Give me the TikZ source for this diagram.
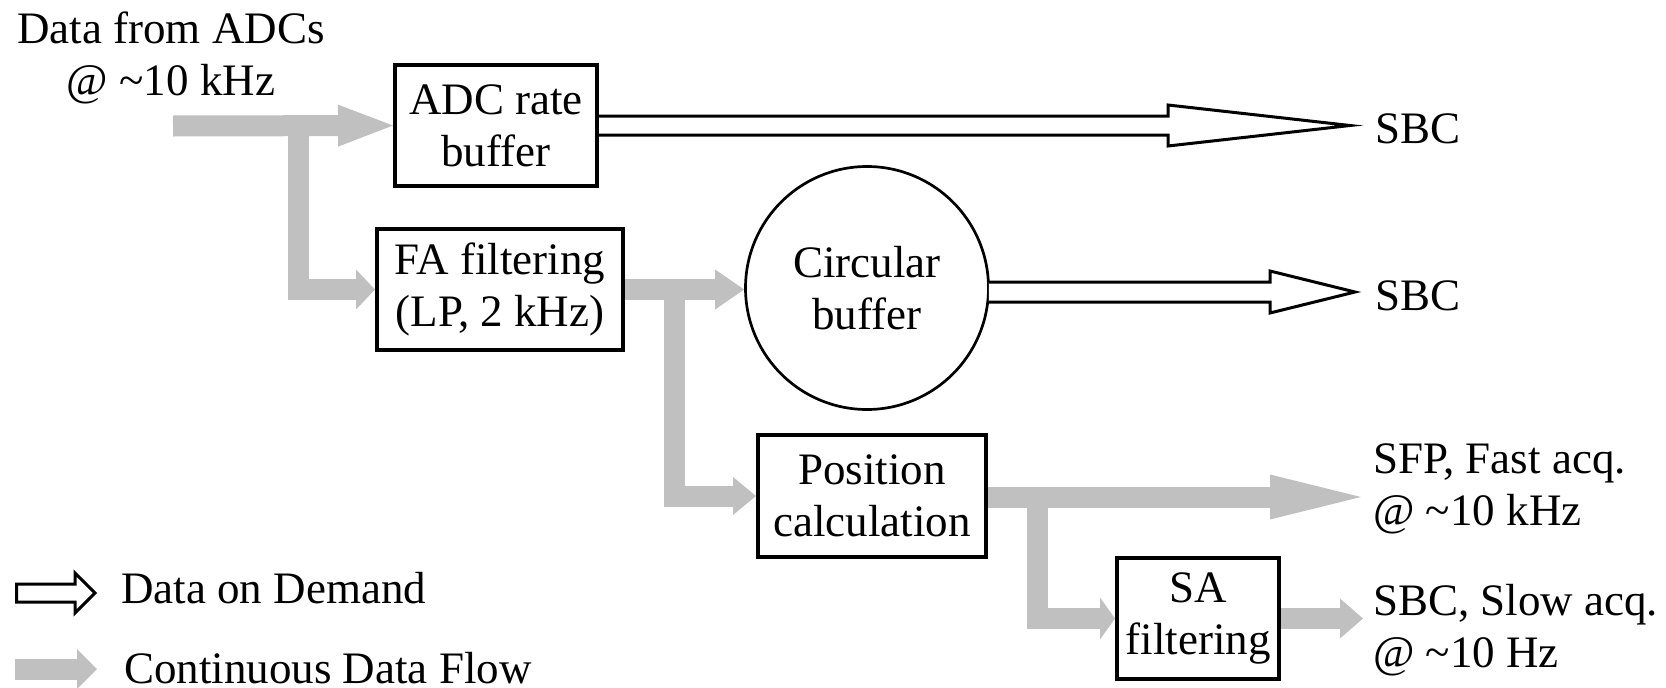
\documentclass[tikz,border=0pt]{standalone}
\usepackage{fontspec}
\setmainfont{LiberationSerif}[Extension=.ttf, UprightFont=*-Regular, BoldFont=*-Bold, ItalicFont=*-Italic]
\usetikzlibrary{arrows.meta,calc}
\definecolor{flowgray}{RGB}{192,192,192}
% #1 start, #2 tip, #3 half shaft, #4 head length, #5 head half width
\newcommand\dodarrow[5]{%
  \draw[dod] ($(#1)+(0,-#3)$) -- ($(#2)+(-#4,-#3)$) -- ($(#2)+(-#4,-#5)$) -- (#2)
    -- ($(#2)+(-#4,#5)$) -- ($(#2)+(-#4,#3)$) -- ($(#1)+(0,#3)$);}
\begin{document}
\begin{tikzpicture}[x=1pt,y=-1pt,
  txt/.style={font=\rmfamily\fontsize{45}{52}\selectfont},
  lbl/.style={txt, inner sep=0pt},
  blk/.style={draw, line width=4pt, txt, align=center, inner sep=0pt},
  flow/.style={draw=flowgray, line width=21pt},
  dod/.style={draw=black, line width=3pt, line join=miter, fill=white}]
\useasboundingbox (0,0) rectangle (1666,688);

% blocks
\node[blk, minimum width=202pt, minimum height=121pt] (adc) at (496,125.5) {ADC rate\\buffer};
\node[blk, minimum width=246pt, minimum height=121pt] (fa) at (500,289.5) {FA filtering\\(LP, 2 kHz)};
\node[circle, draw, line width=2.7pt, minimum size=243pt, inner sep=0pt, txt, align=center] (cb) at (867,288) {Circular\\buffer};
\node[blk, minimum width=228pt, minimum height=122pt] (pos) at (872,496) {Position\\calculation};
\node[blk, minimum width=162pt, minimum height=121pt] (sa) at (1198,618.5) {SA\\filtering};

% labels (base anchor = baseline of the last line)
\node[lbl, anchor=base, align=center] (src) at (171,95) {Data from ADCs\\@ \textasciitilde10 kHz};
\node[lbl, anchor=base west] (sbc1) at (1375,143) {SBC};
\node[lbl, anchor=base west] (sbc2) at (1375,310) {SBC};
\node[lbl, anchor=base west, align=left] (sfpl) at (1373,525) {SFP, Fast acq.\\@ \textasciitilde10 kHz};
\node[lbl, anchor=base west, align=left] (sbcl) at (1373,667) {SBC, Slow acq.\\@ \textasciitilde10 Hz};

% continuous data flow
\coordinate (in) at (173,126);
\draw[flow,-{Triangle[length=55pt,width=42pt,line width=0pt]}] (in) -- (adc.west);
\coordinate (b1) at (298,126);
\draw[flow,-{Triangle[length=19pt,width=40pt,line width=0pt]}] (b1) -- (b1 |- fa.west) -- (fa.west);
\draw[flow,-{Triangle[length=29pt,width=40pt,line width=0pt]}] (fa.east) -- (fa.east -| cb.west);
\coordinate (b2) at (674,289.5);
\draw[flow,-{Triangle[length=23pt,width=38pt,line width=0pt]}] (b2) -- (b2 |- pos.west) -- (pos.west);
\coordinate (sfp) at (1361,497);
\draw[flow,-{Triangle[length=91pt,width=45pt,line width=0pt]}] (pos.east |- sfp) -- (sfp);
\coordinate (b3) at (1037,497);
\draw[flow,-{Triangle[length=15pt,width=42pt,line width=0pt]}] (b3) -- (b3 |- sa.west) -- (sa.west);
\coordinate (sbc3) at (1363,618.5);
\draw[flow,-{Triangle[length=23pt,width=40pt,line width=0pt]}] (sa.east) -- (sbc3);

% data on demand
\coordinate (t1) at (1350,125.5);
\dodarrow{adc.east}{t1}{9.5}{182}{20.5}
\coordinate (cbo) at ($(cb.east)+(-1,4)$);
\coordinate (t2) at (1355,292);
\dodarrow{cbo}{t2}{10}{85}{21}

% legend
\coordinate (l1a) at (16.5,593);
\coordinate (l1b) at (95,593);
\draw[dod] ($(l1a)+(0,-9)$) -- ($(l1b)+(-20,-9)$) -- ($(l1b)+(-20,-20)$) -- (l1b)
  -- ($(l1b)+(-20,20)$) -- ($(l1b)+(-20,9)$) -- ($(l1a)+(0,9)$) -- cycle;
\node[lbl, anchor=base west] (leg1) at (121,603) {Data on Demand};
\coordinate (l2a) at (15,669);
\coordinate (l2b) at (97,669);
\draw[flow,-{Triangle[length=20pt,width=40pt,line width=0pt]}] (l2a) -- (l2b);
\node[lbl, anchor=base west] (leg2) at (124,683) {Continuous Data Flow};
\end{tikzpicture}
\end{document}
